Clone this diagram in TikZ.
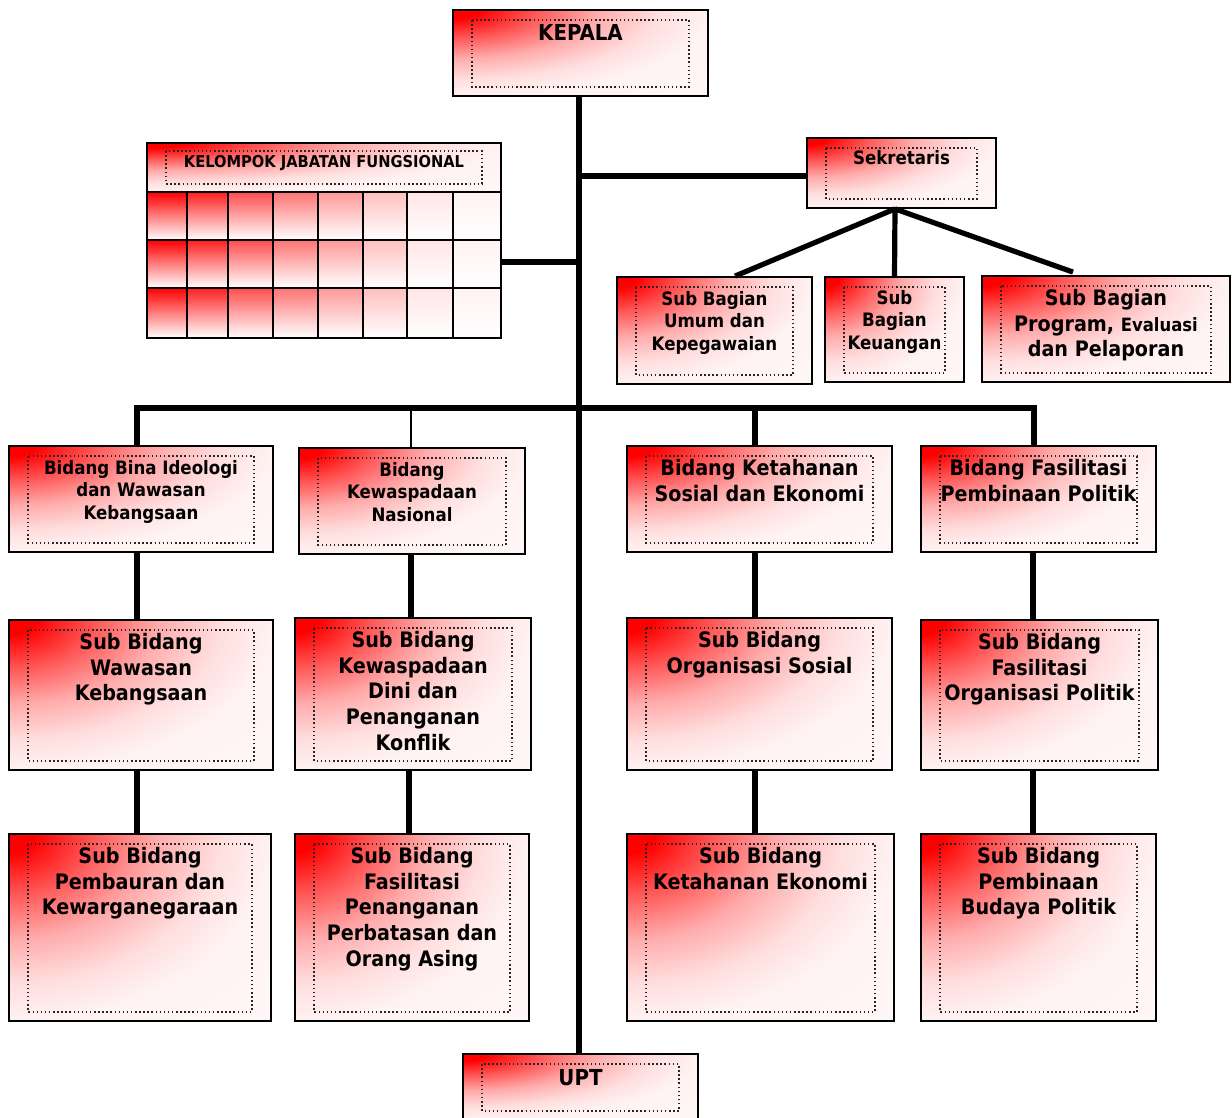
\documentclass[tikz,border=0pt]{standalone}
\usepackage{fontspec}
\IfFontExistsTF{DejaVu Sans Condensed}{\setmainfont{DejaVu Sans Condensed}}{\setmainfont{DejaVu Sans}[FakeStretch=0.9]}
\usetikzlibrary{calc}
\pgfdeclareradialshading{redcorner}{\pgfpoint{0bp}{0bp}}{color(0bp)=(red); color(2.5bp)=(red); color(8bp)=(red!66); color(14bp)=(red!33); color(20bp)=(red!13); color(25bp)=(red!5); color(50bp)=(white)}
\newcommand\orgbox[8]{%
  \pgfmathsetmacro\obcx{(#2+#4)/2}%
  \pgfmathsetmacro\obcy{(#3+#5)/2}%
  \pgfmathsetmacro\obw{#4-#2}%
  \pgfmathsetmacro\obh{#5-#3}%
  \node[orgbox, minimum width=\obw pt, minimum height=\obh pt] (#1) at (\obcx,\obcy) {};%
  \draw[innerdots] ([xshift=20pt,yshift=-11pt]#1.north west) rectangle ([xshift=-20pt,yshift=10pt]#1.south east);%
  \node[lbl, #7, anchor=north] (#1-t) at (\obcx,#6) {#8};%
}
\begin{document}
\begin{tikzpicture}[x=1pt,y=-1pt,
  orgbox/.style={draw=black, line width=1.8pt, fill=white, inner sep=0pt, rectangle,
    path picture={\shade[shading=redcorner] ($(path picture bounding box.south east)!2!(path picture bounding box.north west)$) rectangle (path picture bounding box.south east);}},
  innerdots/.style={draw=black!85, line width=1.5pt, dash pattern=on 1.5pt off 2.6pt},
  lbl/.style={inner sep=0pt, align=center, text=black},
  tkep/.style={font=\bfseries\fontsize{22}{26}\selectfont},
  tbig/.style={font=\bfseries\fontsize{21.3}{25.7}\selectfont},
  tmid/.style={font=\bfseries\fontsize{18.5}{22.5}\selectfont},
  thead/.style={font=\bfseries\fontsize{16.3}{19}\selectfont},
  conn/.style={draw=black, line width=5.2pt},
  thinconn/.style={draw=black, line width=1.5pt},
  gridline/.style={draw=black, line width=1.8pt}]
\path[fill=white, use as bounding box] (0,0) rectangle (1232,1118);

% ---------- top level ----------
\orgbox{kepala}{453}{10}{708}{96}{24}{tkep}{KEPALA}
\orgbox{sek}{807}{138}{996}{208}{150}{tmid}{Sekretaris}
\orgbox{sb1}{617}{277}{812}{384}{291}{tmid}{Sub Bagian\\Umum dan\\Kepegawaian}
\orgbox{sb2}{825}{277}{964}{382}{290}{tmid}{Sub\\Bagian\\Keuangan}
\orgbox{sb3}{982}{276}{1230}{382}{289}{tbig}{Sub Bagian\\Program, {\fontsize{18.3}{25.7}\selectfont Evaluasi}\\dan Pelaporan}

% ---------- kelompok jabatan fungsional ----------
\foreach \xa/\xb/\k in {147/187/100,187/228/88,228/273/70,273/318/55,318/363/40,363/407/25,407/453/10,453/501/5}{
  \foreach \ya/\yb in {192/240,240/288,288/338}{
    \shade[top color=red!\k, bottom color=white] (\xa,\ya) rectangle (\xb,\yb);
  }
}
\foreach \xx in {187,228,273,318,363,407,453}{\draw[gridline] (\xx,192) -- (\xx,338);}
\foreach \yy in {240,288}{\draw[gridline] (147,\yy) -- (501,\yy);}
\node[draw=black, line width=1.8pt, minimum width=354pt, minimum height=195pt, inner sep=0pt] (kjf) at (324,240.5) {};
\node[orgbox, minimum width=354pt, minimum height=49pt] (kjfh) at (324,167.5) {};
\draw[innerdots] ([xshift=20pt,yshift=-9pt]kjfh.north west) rectangle ([xshift=-20pt,yshift=9pt]kjfh.south east);
\node[lbl, thead, anchor=north] (kjfh-t) at (324,155.5) {KELOMPOK JABATAN FUNGSIONAL};

% ---------- bidang ----------
\orgbox{b1}{9}{446}{273}{552}{460}{tmid}{Bidang Bina Ideologi\\dan Wawasan\\Kebangsaan}
\orgbox{b2}{299}{448}{525}{554}{462}{tmid}{Bidang\\Kewaspadaan\\Nasional}
\orgbox{b3}{627}{446}{892}{552}{459}{tbig}{Bidang Ketahanan\\Sosial dan Ekonomi}
\orgbox{b4}{921}{446}{1156}{552}{459}{tbig}{Bidang Fasilitasi\\Pembinaan Politik}

\orgbox{s1a}{9}{620}{273}{770}{633}{tbig}{Sub Bidang\\Wawasan\\Kebangsaan}
\orgbox{s2a}{295}{618}{531}{770}{631}{tbig}{Sub Bidang\\Kewaspadaan\\Dini dan\\Penanganan\\Konflik}
\orgbox{s3a}{627}{618}{892}{770}{631}{tbig}{Sub Bidang\\Organisasi Sosial}
\orgbox{s4a}{921}{620}{1158}{770}{633}{tbig}{Sub Bidang\\Fasilitasi\\Organisasi Politik}

\orgbox{s1b}{9}{834}{271}{1021}{847}{tbig}{Sub Bidang\\Pembauran dan\\Kewarganegaraan}
\orgbox{s2b}{295}{834}{529}{1021}{847}{tbig}{Sub Bidang\\Fasilitasi\\Penanganan\\Perbatasan dan\\Orang Asing}
\orgbox{s3b}{627}{834}{894}{1021}{847}{tbig}{Sub Bidang\\Ketahanan Ekonomi}
\orgbox{s4b}{921}{834}{1156}{1021}{847}{tbig}{Sub Bidang\\Pembinaan\\Budaya Politik}

\orgbox{upt}{463}{1054}{698}{1120}{1069}{tkep}{UPT}

% ---------- connectors ----------
\coordinate (trunk) at ([xshift=-1.5pt]kepala.south);
\draw[conn] (trunk) -- ([xshift=-1.5pt]upt.north);
\coordinate (sekw) at ([yshift=-3pt]sek.west);
\draw[conn] (sekw) -- (sekw -| trunk);
\coordinate (kjfe) at ([yshift=-21.5pt]kjf.east);
\draw[conn] (kjfe) -- (kjfe -| trunk);
\coordinate (seks) at ([xshift=-6.5pt]sek.south);
\draw[conn] (seks) -- ([xshift=20.5pt]sb1.north);
\draw[conn] (seks) -- (sb2.north);
\draw[conn] (seks) -- ([xshift=-33pt,yshift=3pt]sb3.north);

\coordinate (busy) at (0,408);
\coordinate (c1) at ([xshift=-4pt]b1.north);
\coordinate (c2) at ([xshift=-1pt]b2.north);
\coordinate (c3) at ([xshift=-4.5pt]b3.north);
\coordinate (c4) at ([xshift=-4.5pt]b4.north);
\draw[conn] (c1) -- (c1 |- busy) -- (c4 |- busy) -- (c4);
\draw[conn] (c3 |- busy) -- (c3);
\draw[thinconn] (c2 |- busy) -- (c2);

\draw[conn] ([xshift=-4pt]b1.south) -- ([xshift=-4pt]s1a.north);
\draw[conn] ([xshift=-4pt]s1a.south) -- ([xshift=-3pt]s1b.north);
\draw[conn] ([xshift=-1pt]b2.south) -- ([xshift=-2pt]s2a.north);
\draw[conn] ([xshift=-4pt]s2a.south) -- ([xshift=-3pt]s2b.north);
\draw[conn] ([xshift=-4.5pt]b3.south) -- ([xshift=-4.5pt]s3a.north);
\draw[conn] ([xshift=-4.5pt]s3a.south) -- ([xshift=-5.5pt]s3b.north);
\draw[conn] ([xshift=-5.5pt]b4.south) -- ([xshift=-6.5pt]s4a.north);
\draw[conn] ([xshift=-6.5pt]s4a.south) -- ([xshift=-5.5pt]s4b.north);
\end{tikzpicture}
\end{document}
